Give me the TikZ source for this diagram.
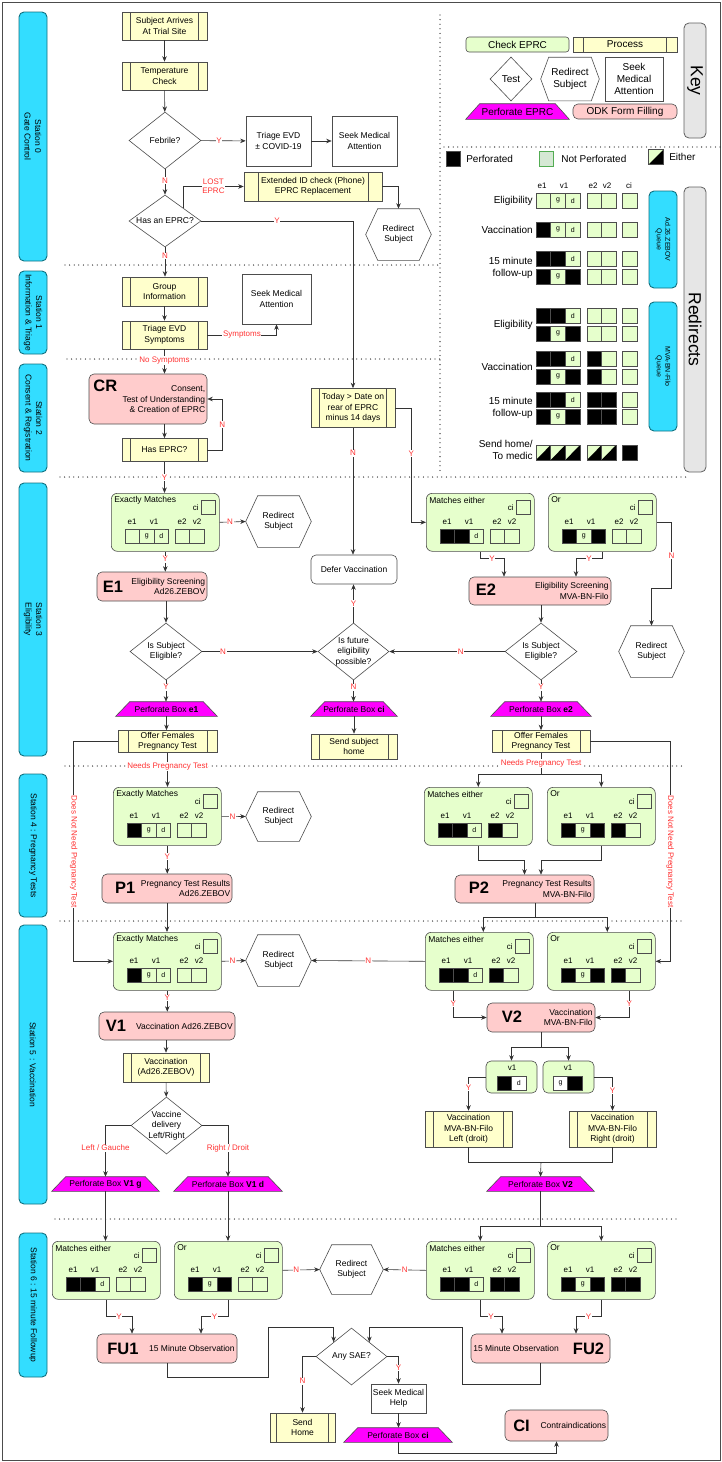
\documentclass[tikz,border=0pt]{standalone}
\usepackage{fontspec}
\setmainfont{Liberation Sans}
\usepackage{tikz}
\usetikzlibrary{positioning,shapes.geometric,arrows.meta,calc}

\definecolor{procyel}{HTML}{FFFFCC}
\definecolor{chkgreen}{HTML}{E6FFCC}
\definecolor{npgreen}{HTML}{D5E8D4}
\definecolor{odkpink}{HTML}{FFCCCC}
\definecolor{stcyan}{HTML}{33DDFF}
\definecolor{stedge}{HTML}{10707F}
\definecolor{perfmag}{HTML}{FF00FF}
\definecolor{keygray}{HTML}{E6E6E6}
\definecolor{boxline}{HTML}{4D4D4D}
\definecolor{lineclr}{HTML}{333333}
\definecolor{labred}{HTML}{FF3333}

\newcommand{\fmain}{\fontsize{8.5}{10.5}\selectfont}
\newcommand{\flbl}{\fontsize{8}{9}\selectfont}
\newcommand{\fcell}{\fontsize{7}{8}\selectfont}
\newcommand{\fkey}{\fontsize{10}{12}\selectfont}
\newcommand{\fbig}{\fontsize{16.5}{18}\selectfont\bfseries}
\newcommand{\fhuge}{\fontsize{17.5}{20}\selectfont}
\newcommand{\fq}{\fontsize{7}{8.5}\selectfont}
\newcommand{\ppb}{path picture bounding box}

% texts of the perforation cells
\newcommand{\pctk}{}
\newcommand{\pcto}{}
\newcommand{\pcte}{}
\newcommand{\pctg}{g}
\newcommand{\pctd}{d}

% EPRC check box: name, left, top, title, cells e1 v1g v1d e2 v2
\newcommand{\chkbox}[5]{%
  \node[chk, anchor=north west] (#1) at (#2,#3) {};
  \node[chkt, anchor=west] (#1-t) at ($(#1.north west)+(3,7)$) {#4};
  \node[cibox, anchor=north east] (#1-ci) at ($(#1.north east)+(-4,7)$) {};
  \node[chkl, anchor=east] (#1-cil) at ($(#1-ci.west)+(-2,0)$) {ci};
  \foreach \lxa/\lname in {21/e1,43/v1,71/e2,86/v2}
    \node[chkl] (#1-\lname) at ($(#1.north west)+(\lxa,29)$) {\lname};
  \foreach \c [count=\i] in {#5} {
    \pgfmathsetmacro{\cx}{{21.25,35.75,50.25,71.25,85.75}[\i-1]}
    \node[pcell, pc\c/.try] (#1-c\i) at ($(#1.north west)+(\cx,43)$) {\csname pct\c\endcsname};
  }
}

% one row of the redirect table: name, y, cells
\newcommand{\rrow}[3]{%
  \foreach \c [count=\i] in {#3} {
    \pgfmathsetmacro{\cx}{{543.3,558,572.7,594.3,608.8,629.5}[\i-1]}
    \node[rcell, pc\c/.try] (#1-\i) at (\cx,#2) {\csname pct\c\endcsname};
  }
}

\begin{document}
\begin{tikzpicture}[x=1pt, y=-1pt, line width=0.6pt,
    outerframe/.style={draw=gray!60!black, line width=0.8pt},
    dotsep/.style={draw=black!85, line width=1.3pt, line cap=round, dash pattern=on 0pt off 4.6pt},
    stn/.style={draw=stedge, fill=stcyan, rounded corners=5pt, rotate=-90, minimum height=28, inner sep=0, align=center, font=\fmain, line width=0.9pt},
    keybar/.style={draw=gray!75!black, fill=keygray, rounded corners=5pt, rotate=-90, minimum height=22, inner sep=0, font=\fhuge, line width=0.8pt},
    proc/.style={draw=boxline, fill=procyel, align=center, inner sep=1pt, font=\fmain,
      path picture={\draw[boxline] ($(\ppb.north west)!0.1!(\ppb.north east)$) -- ($(\ppb.south west)!0.1!(\ppb.south east)$)
        ($(\ppb.north west)!0.9!(\ppb.north east)$) -- ($(\ppb.south west)!0.9!(\ppb.south east)$);}},
    srect/.style={draw=boxline, fill=white, align=center, inner sep=1pt, font=\fmain},
    dia/.style={diamond, draw=boxline, fill=white, inner sep=0},
    dtxt/.style={font=\fmain, align=center, inner sep=0},
    hexa/.style={align=center, inner sep=0, font=\fmain,
      append after command={\pgfextra{\draw[boxline] (\tikzlastnode.west) -- ([xshift=#1]\tikzlastnode.north west)
        -- ([xshift=-#1]\tikzlastnode.north east) -- (\tikzlastnode.east) -- ([xshift=-#1]\tikzlastnode.south east)
        -- ([xshift=#1]\tikzlastnode.south west) -- cycle;}}},
    hexa/.default=12pt,
    perf/.style={inner sep=0, minimum height=14, font=\fmain,
      append after command={\pgfextra{\filldraw[fill=perfmag, draw=boxline] (\tikzlastnode.south west)
        -- ([xshift=14pt]\tikzlastnode.north west) -- ([xshift=-14pt]\tikzlastnode.north east)
        -- (\tikzlastnode.south east) -- cycle;}}},
    odk/.style={draw=boxline, fill=odkpink, rounded corners=5pt, inner sep=0},
    odktxt/.style={font=\fmain, align=right, inner sep=0},
    bigl/.style={font=\fbig, inner sep=0},
    chk/.style={draw=boxline, fill=chkgreen, rounded corners=6pt, minimum width=108, minimum height=58, inner sep=0},
    chkk/.style={draw=boxline, fill=chkgreen, rounded corners=3pt, inner sep=0, font=\fkey, minimum width=103, minimum height=15},
    chkt/.style={font=\fmain, inner sep=0},
    chkl/.style={font=\flbl, inner sep=0},
    cibox/.style={draw=boxline, minimum size=14, inner sep=0},
    pcell/.style={draw=boxline, minimum width=14.5, minimum height=14, inner sep=0, font=\fcell},
    rcell/.style={pcell, fill=chkgreen, minimum width=14.6, minimum height=15},
    pck/.style={fill=black},
    pce/.style={fill=chkgreen, path picture={\fill[black] (\ppb.south west) -- (\ppb.south east) -- (\ppb.north east) -- cycle;}},
    lsq/.style={draw=boxline, minimum size=14.5, inner sep=0},
    ktxt/.style={font=\fkey, inner sep=0, align=right},
    arr/.style={draw=lineclr, -{Stealth[length=5.5pt, width=4.5pt]}},
    ln/.style={draw=lineclr},
    lbl/.style={font=\flbl, text=labred, fill=white, inner sep=0.6pt, align=center}
]
\useasboundingbox (0,0) rectangle (722,1462);
\draw[outerframe] (2,2) rectangle (720,1460);

% separators
\draw[dotsep] (65,265) -- (440,265);
\draw[dotsep] (67,359) -- (440,359);
\draw[dotsep] (60,477) -- (686,477);
\draw[dotsep] (65,766) -- (683,766);
\draw[dotsep] (60,921) -- (683,921);
\draw[dotsep] (55,1219) -- (680,1219);
\draw[dotsep] (440,15) -- (440,474);
\draw[dotsep] (444,147) -- (720,147);

% stations
\node[stn, minimum width=249] (st0) at (33,136.5) {Station 0\\Gate Control};
\node[stn, minimum width=83] (st1) at (33,312.5) {Station 1\\Information \& Triage};
\node[stn, minimum width=108] (st2) at (33,418) {Station 2\\Consent \& Registration};
\node[stn, minimum width=273] (st3) at (33,619.5) {Station 3\\Eligibility};
\node[stn, minimum width=143] (st4) at (33,845.5) {Station 4 : Pregnancy Tests};
\node[stn, minimum width=279] (st5) at (33,1064.5) {Station 5 : Vaccination};
\node[stn, minimum width=144] (st6) at (33,1305) {Station 6 : 15 minute Followup};

% key
\node[keybar, minimum width=115] (kbar) at (695,80.5) {Key};
\node[keybar, minimum width=285] (rbar) at (695,329.5) {Redirects};
\node[chkk] (kchk) at (517.5,44.5) {Check EPRC};
\node[proc, font=\fkey, inner sep=0, minimum width=104, minimum height=15] (kproc) at (625,44.5) {Process};
\node[dia, minimum width=42, minimum height=44, label={[dtxt, font=\fkey]center:Test}] (ktest) at (511,79) {};
\node[hexa=8pt, font=\fkey, minimum width=58, minimum height=43] (kred) at (570,79) {Redirect\\Subject};
\node[srect, font=\fkey, minimum width=58, minimum height=44] (kseek) at (634,79) {Seek\\Medical\\Attention};
\node[perf, font=\fkey, minimum width=103, minimum height=15] (kperf) at (517.5,111.5) {Perforate EPRC};
\node[odk, font=\fkey, minimum width=104, minimum height=15] (kodk) at (625,111.5) {ODK Form Filling};

% legend
\node[lsq, fill=black] (lperf) at (453.5,159) {};
\node[ktxt, anchor=west] (lperf-t) at (466,159) {Perforated};
\node[lsq, fill=npgreen, draw=green!35!gray] (lnot) at (546.5,159) {};
\node[ktxt, anchor=west] (lnot-t) at (561,159) {Not Perforated};
\node[lsq, pce] (leither) at (656,157) {};
\node[ktxt, anchor=west] (leither-t) at (669,157) {Either};

% redirects table
\foreach \hxa/\hname in {542/e1,564/v1,593/e2,607/v2,629/ci}
  \node[chkl] (rh-\hname) at (\hxa,186) {\hname};
\rrow{ra1}{200.5}{o,g,d,o,o,o}
\rrow{ra2}{229.5}{k,g,d,o,o,o}
\rrow{ra3}{258.5}{k,k,d,o,o,o}
\rrow{ra4}{276.5}{k,g,k,o,o,o}
\rrow{rb1}{315.5}{k,k,d,o,o,o}
\rrow{rb2}{333.5}{k,g,k,o,o,o}
\rrow{rb3}{358.5}{k,k,d,k,o,o}
\rrow{rb4}{376.5}{k,g,k,k,o,o}
\rrow{rb5}{399.5}{k,k,d,k,k,o}
\rrow{rb6}{416.5}{k,g,k,k,k,o}
\rrow{rb7}{452.5}{e,e,e,e,e,k}
\node[ktxt, anchor=east] (rl1) at (533,200.5) {Eligibility};
\node[ktxt, anchor=east] (rl2) at (533,229.5) {Vaccination};
\node[ktxt, anchor=east] (rl3) at (533,268) {15 minute\\follow-up};
\node[ktxt, anchor=east] (rl4) at (533,324.5) {Eligibility};
\node[ktxt, anchor=east] (rl5) at (533,367) {Vaccination};
\node[ktxt, anchor=east] (rl6) at (533,408) {15 minute\\follow-up};
\node[ktxt, anchor=east] (rl7) at (533,450) {Send home/\\To medic};
\node[stn, font=\fq, minimum width=97] (qad) at (663,239.5) {Ad.26.ZEBOV\\Queue};
\node[stn, font=\fq, minimum width=129] (qmva) at (663,366.5) {MVA-BN-Filo\\Queue};

% station 0
\node[proc, minimum width=85, minimum height=28] (arrive) at (164.5,26) {Subject Arrives\\At Trial Site};
\node[proc, minimum width=85, minimum height=28] (temp) at (164.5,76) {Temperature\\Check};
\node[dia, minimum width=72, minimum height=57, label={[dtxt]center:Febrile?}] (febrile) at (165,140.5) {};
\node[srect, minimum width=65, minimum height=50] (triage) at (278.5,141) {Triage EVD\\± COVID-19};
\node[srect, minimum width=65, minimum height=50] (seek0) at (364.5,141) {Seek Medical\\Attention};
\node[dia, minimum width=72, minimum height=52, label={[dtxt]center:Has an EPRC?}] (haseprc) at (165,221) {};
\node[proc, minimum width=138, minimum height=29] (extid) at (313,186.5) {Extended ID check (Phone)\\EPRC Replacement};
\node[hexa, minimum width=65, minimum height=51] (redir0) at (398.5,234.5) {Redirect\\Subject};

% station 1
\node[proc, minimum width=85, minimum height=29] (group) at (164.5,291.5) {Group\\Information};
\node[proc, minimum width=85, minimum height=28] (symp) at (164.5,335) {Triage EVD\\Symptoms};
\node[srect, minimum width=69, minimum height=50] (seek1) at (276.5,299) {Seek Medical\\Attention};

% station 2
\node[odk, minimum width=118, minimum height=50] (cr) at (148,399) {};
\node[bigl] (cr-l) at (105.3,385.5) {CR};
\node[odktxt, anchor=east] (cr-t) at (205.5,399.5) {Consent,\\Test of Understanding\\\& Creation of EPRC};
\node[proc, minimum width=85, minimum height=23] (haseprc2) at (164.5,450) {Has EPRC?};
\node[proc, minimum width=84, minimum height=39] (today) at (353,408) {Today > Date on\\rear of EPRC\\minus 14 days};

% station 3
\chkbox{em1}{111}{493}{Exactly Matches}{o,g,d,o,o}
\chkbox{me1}{426}{493}{Matches either}{k,k,d,o,o}
\chkbox{or1}{548}{493}{Or}{k,g,k,o,o}
\node[hexa, minimum width=65, minimum height=51] (redir3a) at (278.5,521.5) {Redirect\\Subject};
\node[odk, minimum width=110, minimum height=29] (e1) at (152,586.5) {};
\node[bigl] (e1-l) at (113,587) {E1};
\node[odktxt, anchor=east] (e1-t) at (205.5,586.5) {Eligibility Screening\\Ad26.ZEBOV};
\node[dia, minimum width=72, minimum height=57, label={[dtxt]center:{Is Subject\\Eligible?}}] (elig1) at (166,651.5) {};
\node[dia, minimum width=71, minimum height=57, label={[dtxt]center:{Is future\\eligibility\\possible?}}] (future) at (353.5,651.5) {};
\node[srect, rounded corners=5pt, minimum width=86, minimum height=29] (defer) at (354,569.5) {Defer Vaccination};
\node[perf, minimum width=86] (perfci) at (354,709) {Perforate Box \textbf{ci}};
\node[proc, minimum width=86, minimum height=25] (sendsub) at (354,746.5) {Send subject\\home};
\node[perf, minimum width=101] (perfe1) at (166.5,709) {Perforate Box \textbf{e1}};
\node[proc, minimum width=99, minimum height=22] (offer1) at (167.5,741.5) {Offer Females\\Pregnancy Test};
\node[odk, minimum width=142, minimum height=28] (e2) at (540,591) {};
\node[bigl] (e2-l) at (486,590) {E2};
\node[odktxt, anchor=east] (e2-t) at (609,591) {Eligibility Screening\\MVA-BN-Filo};
\node[dia, minimum width=72, minimum height=57, label={[dtxt]center:{Is Subject\\Eligible?}}] (elig2) at (541,651.5) {};
\node[hexa, minimum width=65, minimum height=51] (redir3b) at (651.5,651.5) {Redirect\\Subject};
\node[perf, minimum width=100] (perfe2) at (541,709) {Perforate Box \textbf{e2}};
\node[proc, minimum width=98, minimum height=22] (offer2) at (541,741.5) {Offer Females\\Pregnancy Test};

% station 4
\chkbox{em2}{113}{787}{Exactly Matches}{k,g,d,o,o}
\chkbox{me2}{424}{787}{Matches either}{k,k,d,k,o}
\chkbox{or2}{547}{787}{Or}{k,g,k,k,o}
\node[hexa, minimum width=65, minimum height=49] (redir4) at (278.5,816.5) {Redirect\\Subject};
\node[odk, minimum width=130, minimum height=29] (p1) at (167,888.5) {};
\node[bigl] (p1-l) at (125.3,888) {P1};
\node[odktxt, anchor=east] (p1-t) at (230.5,888.5) {Pregnancy Test Results\\Ad26.ZEBOV};
\node[odk, minimum width=139, minimum height=28] (p2) at (524.5,889) {};
\node[bigl] (p2-l) at (479,888) {P2};
\node[odktxt, anchor=east] (p2-t) at (592,889) {Pregnancy Test Results\\MVA-BN-Filo};

% station 5
\chkbox{em3}{113}{932}{Exactly Matches}{k,g,d,o,o}
\chkbox{me3}{425}{932}{Matches either}{k,k,d,k,o}
\chkbox{or3}{547}{932}{Or}{k,g,k,k,o}
\node[hexa, minimum width=65, minimum height=51] (redir5) at (278.5,960.5) {Redirect\\Subject};
\node[odk, minimum width=136, minimum height=28] (v1) at (167,1026) {};
\node[bigl] (v1-l) at (116,1026) {V1};
\node[odktxt, anchor=east] (v1-t) at (233,1026) {Vaccination Ad26.ZEBOV};
\node[proc, minimum width=86, minimum height=29] (vac1) at (166,1067.5) {Vaccination\\(Ad26.ZEBOV)};
\node[dia, minimum width=71, minimum height=57, label={[dtxt]center:{Vaccine\\delivery\\Left/Right}}] (deliv) at (166.5,1125.5) {};
\node[perf, minimum width=107] (perfv1g) at (105.5,1184) {Perforate Box \textbf{V1 g}};
\node[perf, minimum width=108] (perfv1d) at (228,1184) {Perforate Box \textbf{V1 d}};
\node[odk, minimum width=108, minimum height=29] (v2) at (541,1017.5) {};
\node[bigl] (v2-l) at (512,1017) {V2};
\node[odktxt, anchor=east] (v2-t) at (593,1017.5) {Vaccination\\MVA-BN-Filo};
\node[chk, rounded corners=5pt, minimum width=51, minimum height=32] (sv1a) at (511.5,1077) {};
\node[chkl] (sv1a-t) at (512,1068) {v1};
\node[pcell, fill=black] (sv1a-c1) at (504.3,1083) {};
\node[pcell, fill=white] (sv1a-c2) at (518.8,1083) {d};
\node[chk, rounded corners=5pt, minimum width=51, minimum height=32] (sv1b) at (568.5,1077) {};
\node[chkl] (sv1b-t) at (568,1068) {v1};
\node[pcell, fill=white] (sv1b-c1) at (560.5,1083) {g};
\node[pcell, fill=black] (sv1b-c2) at (575,1083) {};
\node[proc, minimum width=87, minimum height=36] (vacl) at (468.5,1129) {Vaccination\\MVA-BN-Filo\\Left (droit)};
\node[proc, minimum width=87, minimum height=36] (vacr) at (612.5,1129) {Vaccination\\MVA-BN-Filo\\Right (droit)};
\node[perf, minimum width=107] (perfv2) at (540.5,1184) {Perforate Box \textbf{V2}};

% station 6
\chkbox{me4}{52}{1241}{Matches either}{k,k,d,o,o}
\chkbox{or4}{174}{1241}{Or}{k,g,k,o,o}
\chkbox{me5}{426}{1241}{Matches either}{k,k,d,k,k}
\chkbox{or5}{547}{1241}{Or}{k,g,k,k,k}
\node[hexa, minimum width=63, minimum height=49] (redir6) at (351.5,1269.5) {Redirect\\Subject};
\node[odk, minimum width=140, minimum height=29] (fu1) at (167,1348.5) {};
\node[bigl] (fu1-l) at (123,1348.5) {FU1};
\node[odktxt, anchor=east] (fu1-t) at (235,1348.5) {15 Minute Observation};
\node[odk, minimum width=139, minimum height=29] (fu2) at (540.5,1348.5) {};
\node[bigl] (fu2-l) at (588.5,1348.5) {FU2};
\node[odktxt, anchor=west] (fu2-t) at (473,1348.5) {15 Minute Observation};
\node[dia, minimum width=71, minimum height=57, label={[dtxt]center:Any SAE?}] (sae) at (351.5,1356.5) {};
\node[proc, minimum width=65, minimum height=29] (sendhome) at (302.5,1427.5) {Send\\Home};
\node[srect, minimum width=55, minimum height=29] (seekhelp) at (398.5,1398.5) {Seek Medical\\Help};
\node[perf, minimum width=108] (perfci2) at (398,1435) {Perforate Box \textbf{ci}};
\node[odk, minimum width=103, minimum height=31] (ci) at (556.5,1425.5) {};
\node[bigl] (ci-l) at (521.5,1425.5) {CI};
\node[odktxt, anchor=east] (ci-t) at (606.5,1425.5) {Contraindications};

% connectors station 0
\draw[arr] (arrive) -- (temp);
\draw[arr] (temp) -- (febrile);
\draw[arr] (febrile) -- node[lbl, pos=0.4]{Y} (triage);
\draw[arr] (triage) -- (seek0);
\draw[arr] (febrile) -- node[lbl, pos=0.45]{N} (haseprc);
\draw[arr] (haseprc.north east) |- node[lbl, pos=0.75]{LOST\\EPRC} (extid.west);
\draw[arr] (haseprc.east) -| node[lbl, pos=0.25]{Y} (today.north);
\draw[arr] (haseprc.south) -- node[lbl, pos=0.3]{N} (haseprc.south |- group.north);
\draw[arr] (extid.east) -| (redir0.north);

% connectors station 1 and 2
\draw[arr] (group) -- (symp);
\draw[arr] (symp.east) -| node[lbl, pos=0.25]{Symptoms} (seek1.south);
\draw[arr] (symp.south) -- node[lbl, pos=0.45]{No Symptoms} (symp.south |- cr.north);
\draw[arr] (haseprc2.north |- cr.south) -- (haseprc2.north);
\draw[arr] (haseprc2.east) -- ++(15,0) |- node[lbl, pos=0.25]{N} (cr.east);
\draw[arr] (haseprc2.south) -- node[lbl]{Y} (haseprc2.south |- em1.north);
\draw[arr] (today.south) -- node[lbl, pos=0.2]{N} (today.south |- defer.north);
\draw[arr] (today.east) -- ++(16,0) |- node[lbl, pos=0.2]{Y} (me1.west);

% connectors station 3
\draw[arr] (em1.east) -- node[lbl, pos=0.4]{N} (redir3a.west);
\draw[arr] (em1.south) -- node[lbl, pos=0.38]{Y} (em1.south |- e1.north);
\draw[arr] (elig1.north |- e1.south) -- (elig1.north);
\draw[arr] (elig1.east) -- node[lbl, pos=0.18]{N} (future.west);
\draw[arr] (future.north) -- node[lbl]{Y} (future.north |- defer.south);
\draw[arr] (future.south) -- node[lbl, pos=0.32]{N} (future.south |- perfci.north);
\draw[arr] (perfci) -- (sendsub);
\draw[arr] (elig1.south) -- node[lbl, pos=0.32]{Y} (elig1.south |- perfe1.north);
\draw[arr] (perfe1.south) -- (perfe1.south |- offer1.north);
\draw[arr] (me1.south) -- ++(0,7) -| node[lbl, pos=0.25]{Y} ([xshift=-36]e2.north);
\draw[arr] (or1.south) -- ++(0,7) -| node[lbl, pos=0.25]{Y} ([xshift=36]e2.north);
\draw[arr] (or1.east) -- ++(15,0) -- node[lbl]{N} ++(0,66) -| (redir3b.north);
\draw[arr] (elig2.north |- e2.south) -- (elig2.north);
\draw[arr] (elig2.west) -- node[lbl, pos=0.38]{N} (future.east);
\draw[arr] (elig2.south) -- node[lbl, pos=0.32]{Y} (elig2.south |- perfe2.north);
\draw[arr] (perfe2) -- (offer2);

% connectors station 4
\draw[arr] (offer1.west) -- ++(-44,0) |- node[lbl, rotate=-90, pos=0.25]{Does Not Need Pregnancy Test} (em3.west);
\draw[arr] (offer1.south) -- node[lbl, pos=0.4]{Needs Pregnancy Test} (offer1.south |- em2.north);
\draw[arr] (em2.east) -- node[lbl, pos=0.45]{N} (redir4.west);
\draw[arr] (em2.south) -- node[lbl, pos=0.4]{Y} (em2.south |- p1.north);
\draw[arr] (p1.south) -- (p1.south |- em3.north);
\draw[ln] (offer2.south) -- node[lbl]{Needs Pregnancy Test} ++(0,21) coordinate (needs2);
\draw[arr] (needs2) -| (me2.north);
\draw[arr] (needs2) -| (or2.north);
\draw[arr] (offer2.east) -- ++(80,0) |- node[lbl, rotate=-90, pos=0.25]{Does Not Need Pregnancy Test} (or3.east);
\draw[arr] (me2.south) -- ++(0,15) -| (p2.north);
\draw[arr] (or2.south) -- ++(0,15) -| ([xshift=16.5]p2.north);
\draw[ln] ([xshift=10.5]p2.south) -- ++(0,14) coordinate (p2b);
\draw[arr] (p2b) -| ([xshift=4]me3.north);
\draw[arr] (p2b) -| ([xshift=6]or3.north);

% connectors station 5
\draw[arr] (em3.east) -- node[lbl, pos=0.45]{N} (redir5.west);
\draw[arr] (me3.west) -- node[lbl]{N} (redir5.east);
\draw[arr] (em3.south) -- node[lbl, pos=0.35]{Y} (em3.south |- v1.north);
\draw[arr] (vac1.north |- v1.south) -- (vac1.north);
\draw[arr] (vac1) -- (deliv);
\draw[arr] (deliv.west) -| node[lbl, pos=0.72]{Left / Gauche} (perfv1g.north);
\draw[arr] (deliv.east) -| node[lbl, pos=0.72]{Right / Droit} (perfv1d.north);
\draw[arr] (perfv1g.south) -- (perfv1g.south |- me4.north);
\draw[arr] (perfv1d.south) -- (perfv1d.south |- or4.north);
\draw[arr] ([xshift=-26]me3.south) |- node[lbl, pos=0.25]{Y} (v2.west);
\draw[arr] ([xshift=28]or3.south) |- node[lbl, pos=0.25]{Y} (v2.east);
\draw[ln] (v2.south) -- ++(0,15) coordinate (v2b);
\draw[arr] (v2b) -| (sv1a.north);
\draw[arr] (v2b) -| (sv1b.north);
\draw[arr] (sv1a.west) -| node[lbl, pos=0.66]{Y} (vacl.north);
\draw[arr] (sv1b.east) -| node[lbl, pos=0.7]{Y} (vacr.north);
\coordinate (vjoin) at (541,1162);
\draw[ln] (vacl.south) |- (vjoin) -| (vacr.south);
\draw[arr] (vjoin) -- (perfv2.north);
\draw[ln] (perfv2.south) -- ++(0,35) coordinate (v2c);
\draw[arr] (v2c) -| (me5.north);
\draw[arr] (v2c) -| (or5.north);

% connectors station 6
\draw[arr] (or4.east) -- node[lbl, pos=0.37]{N} (redir6.west);
\draw[arr] (me5.west) -- node[lbl]{N} (redir6.east);
\draw[arr] (me4.south) -- ++(0,17) -| node[lbl, pos=0.25]{Y} ([xshift=-35]fu1.north);
\draw[arr] (or4.south) -- ++(0,17) -| node[lbl, pos=0.25]{Y} ([xshift=34]fu1.north);
\draw[arr] (me5.south) -- ++(0,17) -| node[lbl, pos=0.25]{Y} ([xshift=-38.5]fu2.north);
\draw[arr] (or5.south) -- ++(0,17) -| node[lbl, pos=0.25]{Y} ([xshift=35.5]fu2.north);
\draw[arr] (fu1.south) -- ++(0,14) -- ++(101,0) -- ++(0,-50) -| (sae.north west);
\draw[arr] (fu2.south) -- ++(0,21) -- ++(-78.5,0) -- ++(0,-57) -| (sae.north east);
\draw[arr] (sae.west) -| node[lbl, pos=0.72]{N} (sendhome.north);
\draw[arr] (sae.east) -| node[lbl, pos=0.71]{Y} (seekhelp.north);
\draw[arr] (seekhelp.south) -- (seekhelp.south |- perfci2.north);
\draw[arr] (perfci2.south) |- ($(ci.south)+(0,12)$) -- (ci.south);
\end{tikzpicture}
\end{document}
